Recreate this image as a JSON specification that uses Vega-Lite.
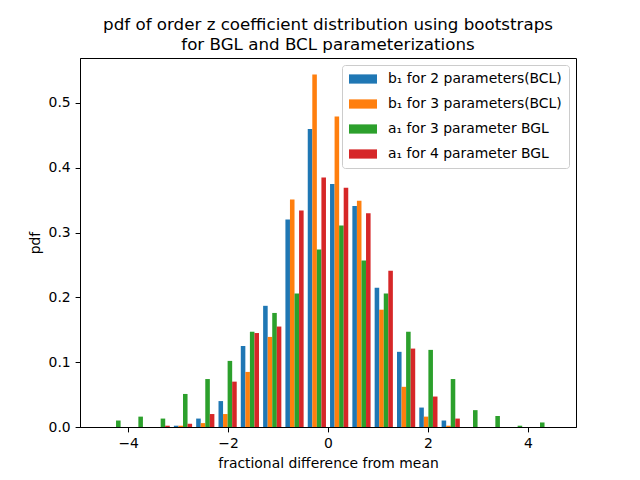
{
  "$schema": "https://vega.github.io/schema/vega-lite/v6.json",
  "autosize": {"type": "none"},
  "padding": {"left": 80, "top": 58, "right": 64, "bottom": 53},
  "width": 496,
  "height": 369,
  "background": "white",
  "title": {
    "text": ["pdf of order z coefficient distribution using bootstraps", "for BGL and BCL parameterizations"],
    "font": "DejaVu Sans",
    "fontSize": 16.7,
    "fontWeight": "normal",
    "color": "black",
    "anchor": "middle",
    "offset": 4,
    "lineHeight": 20
  },
  "data": {
    "values": [
      {"x": -4.242, "series": "a₁ for 3 parameter BGL", "pdf": 0.010},
      {"x": -3.795, "series": "a₁ for 3 parameter BGL", "pdf": 0.016},
      {"x": -3.349, "series": "a₁ for 3 parameter BGL", "pdf": 0.013},
      {"x": -3.349, "series": "a₁ for 4 parameter BGL", "pdf": 0.002},
      {"x": -2.902, "series": "b₁ for 2 parameters(BCL)", "pdf": 0.002},
      {"x": -2.902, "series": "b₁ for 3 parameters(BCL)", "pdf": 0.002},
      {"x": -2.902, "series": "a₁ for 3 parameter BGL", "pdf": 0.051},
      {"x": -2.902, "series": "a₁ for 4 parameter BGL", "pdf": 0.005},
      {"x": -2.456, "series": "b₁ for 2 parameters(BCL)", "pdf": 0.013},
      {"x": -2.456, "series": "b₁ for 3 parameters(BCL)", "pdf": 0.006},
      {"x": -2.456, "series": "a₁ for 3 parameter BGL", "pdf": 0.074},
      {"x": -2.456, "series": "a₁ for 4 parameter BGL", "pdf": 0.020},
      {"x": -2.009, "series": "b₁ for 2 parameters(BCL)", "pdf": 0.040},
      {"x": -2.009, "series": "b₁ for 3 parameters(BCL)", "pdf": 0.020},
      {"x": -2.009, "series": "a₁ for 3 parameter BGL", "pdf": 0.102},
      {"x": -2.009, "series": "a₁ for 4 parameter BGL", "pdf": 0.070},
      {"x": -1.563, "series": "b₁ for 2 parameters(BCL)", "pdf": 0.125},
      {"x": -1.563, "series": "b₁ for 3 parameters(BCL)", "pdf": 0.085},
      {"x": -1.563, "series": "a₁ for 3 parameter BGL", "pdf": 0.147},
      {"x": -1.563, "series": "a₁ for 4 parameter BGL", "pdf": 0.145},
      {"x": -1.116, "series": "b₁ for 2 parameters(BCL)", "pdf": 0.187},
      {"x": -1.116, "series": "b₁ for 3 parameters(BCL)", "pdf": 0.139},
      {"x": -1.116, "series": "a₁ for 3 parameter BGL", "pdf": 0.176},
      {"x": -1.116, "series": "a₁ for 4 parameter BGL", "pdf": 0.155},
      {"x": -0.670, "series": "b₁ for 2 parameters(BCL)", "pdf": 0.320},
      {"x": -0.670, "series": "b₁ for 3 parameters(BCL)", "pdf": 0.351},
      {"x": -0.670, "series": "a₁ for 3 parameter BGL", "pdf": 0.206},
      {"x": -0.670, "series": "a₁ for 4 parameter BGL", "pdf": 0.334},
      {"x": -0.223, "series": "b₁ for 2 parameters(BCL)", "pdf": 0.460},
      {"x": -0.223, "series": "b₁ for 3 parameters(BCL)", "pdf": 0.544},
      {"x": -0.223, "series": "a₁ for 3 parameter BGL", "pdf": 0.274},
      {"x": -0.223, "series": "a₁ for 4 parameter BGL", "pdf": 0.385},
      {"x": 0.223, "series": "b₁ for 2 parameters(BCL)", "pdf": 0.375},
      {"x": 0.223, "series": "b₁ for 3 parameters(BCL)", "pdf": 0.479},
      {"x": 0.223, "series": "a₁ for 3 parameter BGL", "pdf": 0.311},
      {"x": 0.223, "series": "a₁ for 4 parameter BGL", "pdf": 0.369},
      {"x": 0.670, "series": "b₁ for 2 parameters(BCL)", "pdf": 0.341},
      {"x": 0.670, "series": "b₁ for 3 parameters(BCL)", "pdf": 0.349},
      {"x": 0.670, "series": "a₁ for 3 parameter BGL", "pdf": 0.257},
      {"x": 0.670, "series": "a₁ for 4 parameter BGL", "pdf": 0.330},
      {"x": 1.116, "series": "b₁ for 2 parameters(BCL)", "pdf": 0.215},
      {"x": 1.116, "series": "b₁ for 3 parameters(BCL)", "pdf": 0.181},
      {"x": 1.116, "series": "a₁ for 3 parameter BGL", "pdf": 0.206},
      {"x": 1.116, "series": "a₁ for 4 parameter BGL", "pdf": 0.241},
      {"x": 1.563, "series": "b₁ for 2 parameters(BCL)", "pdf": 0.116},
      {"x": 1.563, "series": "b₁ for 3 parameters(BCL)", "pdf": 0.062},
      {"x": 1.563, "series": "a₁ for 3 parameter BGL", "pdf": 0.147},
      {"x": 1.563, "series": "a₁ for 4 parameter BGL", "pdf": 0.121},
      {"x": 2.009, "series": "b₁ for 2 parameters(BCL)", "pdf": 0.030},
      {"x": 2.009, "series": "b₁ for 3 parameters(BCL)", "pdf": 0.016},
      {"x": 2.009, "series": "a₁ for 3 parameter BGL", "pdf": 0.119},
      {"x": 2.009, "series": "a₁ for 4 parameter BGL", "pdf": 0.047},
      {"x": 2.456, "series": "b₁ for 2 parameters(BCL)", "pdf": 0.010},
      {"x": 2.456, "series": "b₁ for 3 parameters(BCL)", "pdf": 0.002},
      {"x": 2.456, "series": "a₁ for 3 parameter BGL", "pdf": 0.074},
      {"x": 2.456, "series": "a₁ for 4 parameter BGL", "pdf": 0.013},
      {"x": 2.902, "series": "a₁ for 3 parameter BGL", "pdf": 0.026},
      {"x": 3.349, "series": "a₁ for 3 parameter BGL", "pdf": 0.017},
      {"x": 3.795, "series": "a₁ for 3 parameter BGL", "pdf": 0.002},
      {"x": 4.242, "series": "a₁ for 3 parameter BGL", "pdf": 0.007}
    ]
  },
  "encoding": {
    "x": {
      "field": "x",
      "type": "quantitative",
      "scale": {"domain": [-4.863, 4.863], "nice": false, "zero": false},
      "axis": {"values": [-4, -2, 0, 2, 4], "format": "d", "title": "fractional difference from mean"}
    },
    "y": {
      "field": "pdf",
      "type": "quantitative",
      "scale": {"domain": [0, 0.5694], "nice": false},
      "axis": {"values": [0, 0.1, 0.2, 0.3, 0.4, 0.5], "format": ".1f", "title": "pdf"}
    },
    "color": {
      "field": "series",
      "type": "nominal",
      "scale": {
        "domain": ["b₁ for 2 parameters(BCL)", "b₁ for 3 parameters(BCL)", "a₁ for 3 parameter BGL", "a₁ for 4 parameter BGL"],
        "range": ["#1f77b4", "#ff7f0e", "#2ca02c", "#d62728"]
      },
      "legend": {"title": null}
    }
  },
  "layer": [
    {
      "transform": [{"filter": {"field": "series", "equal": "b₁ for 2 parameters(BCL)"}}],
      "mark": {"type": "bar", "width": 4.56, "xOffset": -6.83, "opacity": 1}
    },
    {
      "transform": [{"filter": {"field": "series", "equal": "b₁ for 3 parameters(BCL)"}}],
      "mark": {"type": "bar", "width": 4.56, "xOffset": -2.28, "opacity": 1}
    },
    {
      "transform": [{"filter": {"field": "series", "equal": "a₁ for 3 parameter BGL"}}],
      "mark": {"type": "bar", "width": 4.56, "xOffset": 2.28, "opacity": 1}
    },
    {
      "transform": [{"filter": {"field": "series", "equal": "a₁ for 4 parameter BGL"}}],
      "mark": {"type": "bar", "width": 4.56, "xOffset": 6.83, "opacity": 1}
    }
  ],
  "config": {
    "view": {"stroke": "black", "strokeWidth": 1},
    "axis": {
      "grid": false,
      "domainColor": "black",
      "tickColor": "black",
      "labelColor": "black",
      "titleColor": "black",
      "labelFont": "DejaVu Sans",
      "titleFont": "DejaVu Sans",
      "labelFontSize": 13.9,
      "titleFontSize": 13.9,
      "titleFontWeight": "normal",
      "tickSize": 4.9,
      "labelPadding": 4.9,
      "titlePadding": 5.6,
      "domainWidth": 1,
      "tickWidth": 1
    },
    "legend": {
      "orient": "top-right",
      "offset": 7,
      "fillColor": "white",
      "strokeColor": "#cccccc",
      "cornerRadius": 3,
      "padding": 7,
      "labelFont": "DejaVu Sans",
      "labelFontSize": 13.9,
      "labelColor": "black",
      "symbolType": "M-1,-0.66H3V0.66H-1Z",
      "symbolSize": 196,
      "symbolStrokeWidth": 0,
      "symbolOpacity": 1,
      "labelOffset": 25,
      "rowPadding": 11,
      "labelLimit": 400
    }
  }
}
